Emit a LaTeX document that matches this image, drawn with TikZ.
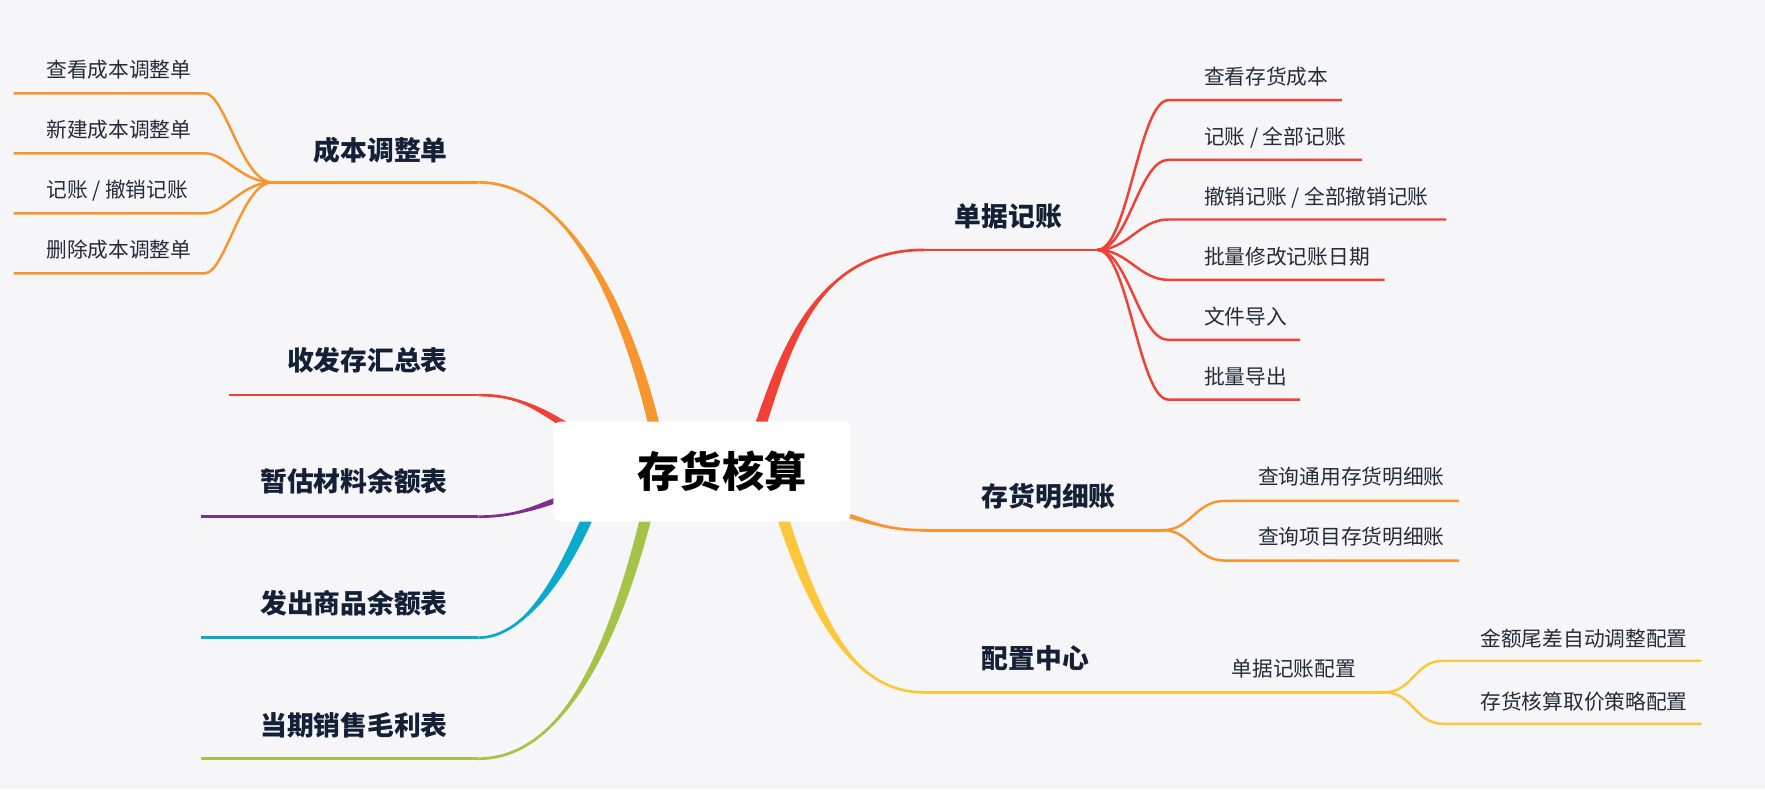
\documentclass[tikz,border=0pt]{standalone}
\usepackage{fontspec}
\setmainfont{Noto Sans CJK SC}
\usetikzlibrary{calc}
\definecolor{bg}{HTML}{F6F6F8}
\definecolor{cOrange}{HTML}{F7952F}
\definecolor{cRed}{HTML}{EF4136}
\definecolor{cPurple}{HTML}{7E2E8F}
\definecolor{cCyan}{HTML}{0AAACF}
\definecolor{cGreen}{HTML}{A3C449}
\definecolor{cYellow}{HTML}{FDC73C}
\definecolor{cNavy}{HTML}{142036}
\definecolor{cLeaf}{HTML}{262B3A}
% tapered main branch: colour, half width, P0 (name), C1, C2, P3 (name)
\newcommand\mmtaper[6]{%
  \path ($(#3)!#2!90:(#4)$) coordinate (mmA) ($(#3)!#2!-90:(#4)$) coordinate (mmB);
  \fill[#1] (mmA) .. controls ($(#4)+(mmA)-(#3)$) and (#5) .. (#6) .. controls (#5) and ($(#4)+(mmB)-(#3)$) .. (mmB) -- cycle;
  \draw[#1, line width=2.4pt] (#3) .. controls (#4) and (#5) .. (#6);
}
\tikzset{
  leaf/.style={font=\fontsize{18.4}{22}\selectfont, text=cLeaf, inner sep=0pt, text height=16.2pt, text depth=2.2pt},
  branch/.style={font=\bfseries\fontsize{23.8}{28}\selectfont, text=cNavy, inner sep=0pt, text height=20.9pt, text depth=2.9pt},
  mainline/.style={line width=2.4pt},
  leafline/.style={line width=2.2pt},
}
\begin{document}
\begin{tikzpicture}[x=1pt,y=-1pt]
\useasboundingbox (0,0) rectangle (1568,701);
\fill[bg] (0,0) rectangle (1568,701);

% ---------- anchor coordinates ----------
\coordinate (p1) at (585,395);
\coordinate (p2) at (515,386);
\coordinate (p3) at (505,440);
\coordinate (p4) at (529,443);
\coordinate (p5) at (578,443);
\coordinate (q1) at (670,395);
\coordinate (q2) at (735,452);
\coordinate (q3) at (690,443);
\coordinate (b1r) at (425,162);   \coordinate (j1) at (242,162);
\coordinate (b2r) at (425,351);   \coordinate (b2l) at (203,351);
\coordinate (b3r) at (425,459);   \coordinate (b3l) at (179,459);
\coordinate (b4r) at (425,566.5); \coordinate (b4l) at (179,566.5);
\coordinate (b5r) at (425,674);   \coordinate (b5l) at (179,674);
\coordinate (r1l) at (821,222);   \coordinate (j2) at (975,222);
\coordinate (r2l) at (820,471);   \coordinate (j3) at (1033,471);
\coordinate (r3l) at (820,615);   \coordinate (c31) at (1022,615); \coordinate (j4) at (1230,615);

% ---------- tapered main branches ----------
\mmtaper{cOrange}{5pt}{p1}{559,275}{505,162}{b1r}
\mmtaper{cRed}{3.2pt}{p2}{478,362}{460,351}{b2r}
\mmtaper{cPurple}{2.6pt}{p3}{475,452}{455,459}{b3r}
\mmtaper{cCyan}{5pt}{p4}{500,515}{465,566.5}{b4r}
\mmtaper{cGreen}{5pt}{p5}{550,560}{505,674}{b5r}
\mmtaper{cRed}{5pt}{q1}{695,320}{720,222}{r1l}
\mmtaper{cOrange}{2.3pt}{q2}{775,465}{790,471}{r2l}
\mmtaper{cYellow}{5pt}{q3}{724,553}{760,615}{r3l}

% ---------- underlines ----------
\draw[mainline, cOrange] (b1r) -- (j1);
\draw[mainline, cRed] (b2r) -- (b2l);
\draw[mainline, cPurple] (b3r) -- (b3l);
\draw[mainline, cCyan] (b4r) -- (b4l);
\draw[mainline, cGreen] (b5r) -- (b5l);
\draw[mainline, cRed] (r1l) -- (j2);
\draw[mainline, cOrange] (r2l) -- (j3);
\draw[mainline, cYellow] (r3l) -- (c31) -- (j4);

% ---------- leaves of 成本调整单 ----------
\foreach \i/\y in {1/82.9, 2/136.2, 3/189.5, 4/242.8}{
  \coordinate (a\i s) at (182,\y);
  \coordinate (a\i e) at (12,\y);
  \draw[leafline, cOrange] (j1) .. controls (215,162) and (200,\y) .. (a\i s) -- (a\i e);
}
% ---------- leaves of 单据记账 ----------
\foreach \i/\y/\e in {1/89/1192, 2/142/1210, 3/195/1285, 4/248.6/1230, 5/302/1155, 6/355/1155}{
  \coordinate (d\i s) at (1038,\y);
  \coordinate (d\i e) at (\e,\y);
  \draw[leafline, cRed] (j2) .. controls (1002,222) and (1012,\y) .. (d\i s) -- (d\i e);
}
% ---------- leaves of 存货明细账 ----------
\foreach \i/\y in {1/445, 2/498}{
  \coordinate (m\i s) at (1088,\y);
  \coordinate (m\i e) at (1296,\y);
  \draw[leafline, cOrange] (j3) .. controls (1058,471) and (1062,\y) .. (m\i s) -- (m\i e);
}
% ---------- leaves of 单据记账配置 ----------
\foreach \i/\y in {1/587, 2/643}{
  \coordinate (k\i s) at (1282,\y);
  \coordinate (k\i e) at (1511.5,\y);
  \draw[leafline, cYellow] (j4) .. controls (1255,615) and (1257,\y) .. (k\i s) -- (k\i e);
}

% ---------- central node ----------
\node[fill=white, rounded corners=7pt, minimum width=264pt, minimum height=89pt, inner sep=0pt,
      font=\bfseries\fontsize{37.5}{42}\selectfont, text=black, text height=33pt, text depth=4.5pt]
  (root) at (623.5,419) {\hspace*{36pt}存货核算};

% ---------- branch labels ----------
\node[branch, anchor=east] (n1) at (398,133.3) {成本调整单};
\node[branch, anchor=east] (n2) at (398,320) {收发存汇总表};
\node[branch, anchor=east] (n3) at (398,428) {暂估材料余额表};
\node[branch, anchor=east] (n4) at (398,536) {发出商品余额表};
\node[branch, anchor=east] (n5) at (398,644) {当期销售毛利表};
\node[branch, anchor=west] (n6) at (848,192.5) {单据记账};
\node[branch, anchor=west] (n7) at (872,441) {存货明细账};
\node[branch, anchor=west] (n8) at (872,584.6) {配置中心};

% ---------- leaf labels ----------
\node[leaf, anchor=west] (t11) at (41,62.2) {查看成本调整单};
\node[leaf, anchor=west] (t12) at (41,115.5) {新建成本调整单};
\node[leaf, anchor=west] (t13) at (41,168.8) {记账 / 撤销记账};
\node[leaf, anchor=west] (t14) at (41,222) {删除成本调整单};

\node[leaf, anchor=west] (t61) at (1069.5,68.1) {查看存货成本};
\node[leaf, anchor=west] (t62) at (1069.5,121.4) {记账 / 全部记账};
\node[leaf, anchor=west] (t63) at (1069.5,174.7) {撤销记账 / 全部撤销记账};
\node[leaf, anchor=west] (t64) at (1069.5,228) {批量修改记账日期};
\node[leaf, anchor=west] (t65) at (1069.5,281.3) {文件导入};
\node[leaf, anchor=west] (t66) at (1069.5,334.6) {批量导出};

\node[leaf, anchor=west] (t71) at (1117.6,423.4) {查询通用存货明细账};
\node[leaf, anchor=west] (t72) at (1117.6,476.7) {查询项目存货明细账};

\node[leaf] (t80) at (1149.5,593.7) {单据记账配置};
\node[leaf, anchor=west] (t81) at (1315,567) {金额尾差自动调整配置};
\node[leaf, anchor=west] (t82) at (1315,623) {存货核算取价策略配置};
\end{tikzpicture}
\end{document}
